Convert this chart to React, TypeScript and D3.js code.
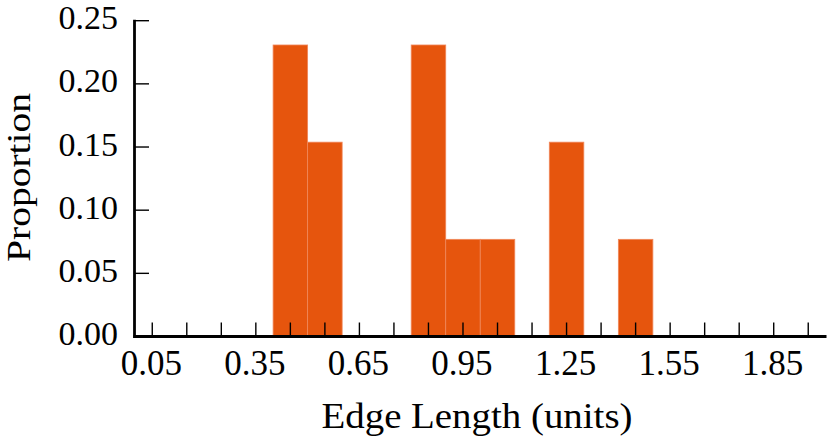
import React from "react";
import * as d3 from "d3";

const binStarts = [0.4, 0.5, 0.8, 0.9, 1.0, 1.2, 1.4];
const binWidth = 0.1;
const proportions = [3 / 13, 2 / 13, 3 / 13, 1 / 13, 1 / 13, 2 / 13, 1 / 13];
const xTicks = [0.05, 0.15, 0.25, 0.35, 0.45, 0.55, 0.65, 0.75, 0.85, 0.95, 1.05, 1.15, 1.25, 1.35, 1.45, 1.55, 1.65, 1.75, 1.85, 1.95];
const xTickLabels = ["0.05", "0.35", "0.65", "0.95", "1.25", "1.55", "1.85"];
const yTicks = [0, 0.05, 0.1, 0.15, 0.2, 0.25];
const xTitle = "Edge Length (units)";
const yTitle = "Proportion";

const W = 831;
const H = 443;
const FONT = "Liberation Serif, DejaVu Serif, serif";
const FILL = "#e6550d";

export default function App() {
  const x = d3.scaleLinear().domain([0, 2]).range([135, 825.5]);
  const y = d3.scaleLinear().domain([0, 0.25]).range([336.5, 20.7]);
  const labelSet = new Set(xTickLabels);
  const tstyle = { fontFamily: FONT };
  return (
    <svg
      width={W}
      height={H}
      style={{ position: "absolute", left: 0, top: 0, background: "#fff" }}
    >
      {binStarts.map((b, i) => (
        <rect
          key={i}
          x={x(b)}
          y={y(proportions[i])}
          width={x(b + binWidth) - x(b)}
          height={y(0) - y(proportions[i])}
          fill={FILL}
          stroke="#f0875a"
          strokeWidth={0.8}
        />
      ))}
      {xTicks.map((t, i) => (
        <line key={i} x1={x(t)} x2={x(t)} y1={y(0)} y2={y(0) - 14} stroke="#000" strokeWidth={1.4} />
      ))}
      {xTicks
        .filter((t) => labelSet.has(t.toFixed(2)))
        .map((t, i) => (
          <text key={i} x={x(t) - 1} y={375} textAnchor="middle" fontSize={35} fill="#000" style={tstyle}>
            {t.toFixed(2)}
          </text>
        ))}
      {yTicks.map((t, i) => (
        <g key={i}>
          {t > 0 && <line x1={x(0)} x2={x(0) + 14} y1={y(t)} y2={y(t)} stroke="#000" strokeWidth={1.4} />}
          <text x={118} y={y(t) + 8.5} textAnchor="end" fontSize={34} fill="#000" style={tstyle}>
            {t.toFixed(2)}
          </text>
        </g>
      ))}
      <line x1={x(0) - 0.5} x2={x(0) - 0.5} y1={y(0.25) - 1} y2={y(0) + 1.5} stroke="#000" strokeWidth={2.8} />
      <line x1={x(0) - 1.5} x2={826.5} y1={y(0)} y2={y(0)} stroke="#000" strokeWidth={2.8} />
      <text x={477} y={428} textAnchor="middle" fontSize={35} fill="#000" textLength={311} lengthAdjust="spacingAndGlyphs" style={tstyle}>
        {xTitle}
      </text>
      <text
        transform={`translate(30,177.5) rotate(-90)`}
        textAnchor="middle"
        fontSize={34}
        fill="#000"
        textLength={169}
        lengthAdjust="spacingAndGlyphs"
        style={tstyle}
      >
        {yTitle}
      </text>
    </svg>
  );
}
